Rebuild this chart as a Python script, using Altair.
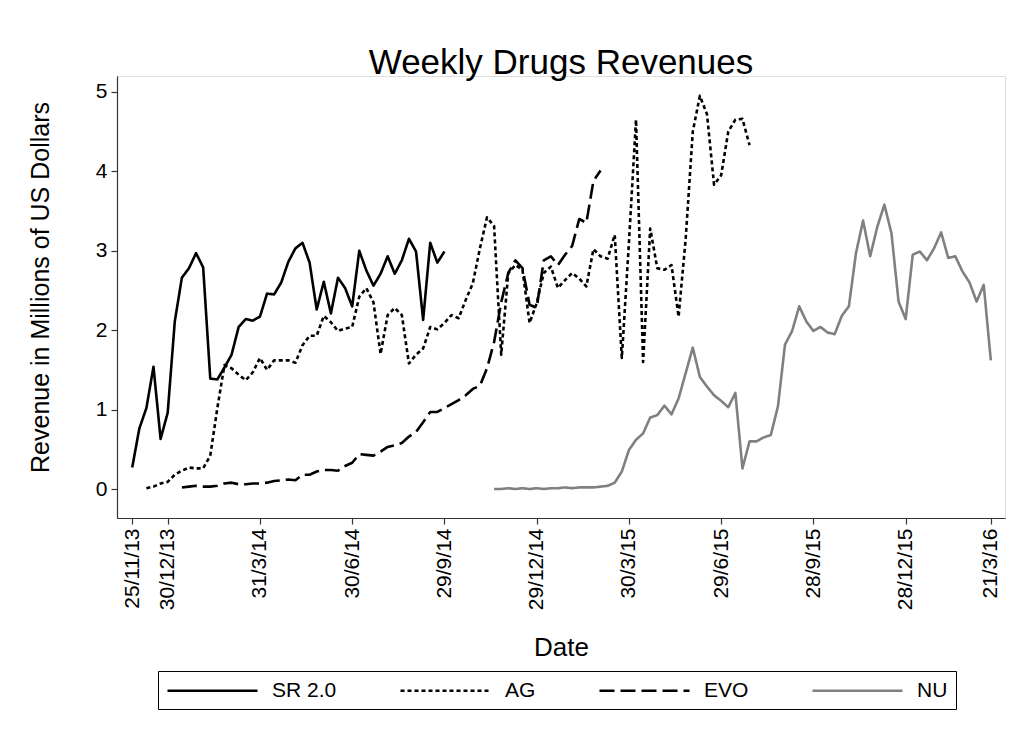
import altair as alt
import pandas as pd

# ---------------- data ----------------
series_names = ["SR 2.0", "AG", "EVO", "NU"]
first_monday = "2013-11-25"
# index (in weeks after first_monday) of each series' first observation
start_weeks = [0, 2, 7, 51]

SR = [0.27, 0.76, 1.02, 1.54, 0.63, 0.96, 2.11, 2.66, 2.78, 2.97,
      2.79, 1.39, 1.38, 1.53, 1.69, 2.04, 2.14, 2.12, 2.17, 2.46,
      2.45, 2.60, 2.86, 3.03, 3.10, 2.85, 2.26, 2.61, 2.21, 2.66,
      2.53, 2.30, 3.00, 2.75, 2.56, 2.71, 2.93, 2.71, 2.88, 3.15,
      2.99, 2.13, 3.10, 2.85, 2.99]

AG = [0.01, 0.03, 0.07, 0.09, 0.18, 0.23, 0.27, 0.26, 0.26, 0.42,
      1.02, 1.56, 1.52, 1.44, 1.37, 1.47, 1.65, 1.50, 1.62, 1.62,
      1.62, 1.59, 1.81, 1.93, 1.93, 2.18, 2.10, 1.99, 2.02, 2.04,
      2.42, 2.53, 2.35, 1.70, 2.19, 2.28, 2.19, 1.58, 1.69, 1.77,
      2.04, 2.01, 2.09, 2.19, 2.15, 2.38, 2.59, 3.03, 3.42, 3.31,
      1.69, 2.72, 2.82, 2.76, 2.09, 2.34, 2.72, 2.80, 2.53, 2.63,
      2.72, 2.65, 2.55, 3.02, 2.93, 2.90, 3.20, 1.65, 3.10, 4.65,
      1.60, 3.28, 2.78, 2.76, 2.82, 2.17, 3.15, 4.50, 4.95, 4.72,
      3.83, 3.95, 4.50, 4.65, 4.66, 4.33]

EVO = [0.02, 0.03, 0.04, 0.03, 0.03, 0.04, 0.07, 0.08, 0.06, 0.06,
       0.07, 0.07, 0.08, 0.10, 0.11, 0.12, 0.11, 0.18, 0.18, 0.22,
       0.24, 0.24, 0.23, 0.29, 0.33, 0.44, 0.43, 0.42, 0.47, 0.53,
       0.55, 0.58, 0.66, 0.72, 0.84, 0.97, 0.97, 1.02, 1.07, 1.12,
       1.18, 1.26, 1.30, 1.52, 1.85, 2.35, 2.72, 2.88, 2.78, 2.32,
       2.28, 2.88, 2.93, 2.82, 2.95, 3.06, 3.40, 3.35, 3.88, 4.01]

NU = [0.00, 0.00, 0.01, 0.00, 0.01, 0.00, 0.01, 0.00, 0.01, 0.01,
      0.02, 0.01, 0.02, 0.02, 0.02, 0.03, 0.04, 0.08, 0.22, 0.49,
      0.62, 0.70, 0.90, 0.93, 1.05, 0.94, 1.14, 1.46, 1.78, 1.41,
      1.29, 1.18, 1.11, 1.03, 1.21, 0.26, 0.60, 0.60, 0.65, 0.68,
      1.04, 1.82, 1.99, 2.30, 2.11, 1.99, 2.04, 1.97, 1.95, 2.18,
      2.30, 2.97, 3.38, 2.93, 3.30, 3.58, 3.22, 2.36, 2.14, 2.95,
      2.99, 2.88, 3.03, 3.23, 2.91, 2.93, 2.74, 2.60, 2.36, 2.57,
      1.62]

tick_dates = ["2013-11-25", "2013-12-30", "2014-03-31", "2014-06-30",
              "2014-09-29", "2014-12-29", "2015-03-30", "2015-06-29",
              "2015-09-28", "2015-12-28", "2016-03-21"]
y_ticks = [0, 1, 2, 3, 4, 5]
x_domain_dates = ["2013-11-10", "2016-04-04"]
y_domain = [-0.365, 5.2]

# ---------------- table ----------------
rows = []
base = pd.Timestamp(first_monday)
for name, start, vals in zip(series_names, start_weeks, [SR, AG, EVO, NU]):
    for i, v in enumerate(vals):
        d = base + pd.Timedelta(weeks=start + i)
        rows.append({"date": d.strftime("%Y-%m-%d"), "revenue": v, "series": name})
df = pd.DataFrame(rows)


def ms(s):
    return int(pd.Timestamp(s, tz="UTC").value // 10**6)


tick_ms = [ms(s) for s in tick_dates]
x_domain = [ms(s) for s in x_domain_dates]

FONT = "Liberation Sans"
AXC = "#333333"

legend = alt.Legend(orient="none", legendX=41, legendY=595,
                    direction="horizontal", columns=4, title=None,
                    symbolType="M-1,0H8", symbolSize=400,
                    symbolStrokeWidth=2.4,
                    labelFontSize=21, labelFont=FONT, labelColor="black",
                    labelOffset=83, columnPadding=58, padding=8,
                    strokeColor="black")

chart = alt.Chart(df).mark_line(strokeWidth=2.6, strokeJoin="round").encode(
    x=alt.X("date:T",
            scale=alt.Scale(type="utc", domain=x_domain, nice=False),
            axis=alt.Axis(values=tick_ms,
                          labelExpr="utcFormat(datum.value, '%-d/%-m/%y')",
                          labelAngle=-90, labelFontSize=21, labelFont=FONT,
                          labelColor="black", labelPadding=4,
                          tickSize=6, tickColor=AXC, domainColor=AXC,
                          domainWidth=1.2, tickWidth=1.2, grid=False,
                          labelOverlap=False, labelFlush=False,
                          title="Date", titleFontSize=26, titleFont=FONT,
                          titleFontWeight="normal", titleColor="black",
                          titlePadding=25)),
    y=alt.Y("revenue:Q",
            scale=alt.Scale(domain=y_domain, nice=False, zero=False),
            axis=alt.Axis(values=y_ticks, labelFontSize=21, labelFont=FONT,
                          labelColor="black", labelPadding=4,
                          tickSize=6, tickColor=AXC, domainColor=AXC,
                          domainWidth=1.2, tickWidth=1.2, grid=False,
                          labelFlush=False,
                          title="Revenue in Millions of US Dollars",
                          titleFontSize=25, titleFont=FONT,
                          titleFontWeight="normal", titleColor="black",
                          titlePadding=42, titleY=211)),
    color=alt.Color("series:N",
                    scale=alt.Scale(domain=series_names,
                                    range=["black", "black", "black", "#808080"]),
                    legend=legend),
    strokeDash=alt.StrokeDash("series:N",
                              scale=alt.Scale(domain=series_names,
                                              range=[[1, 0], [4, 3], [15, 6], [1, 0]]),
                              legend=legend),
    detail="series:N",
).properties(
    width=888,
    height=442,
    title=alt.TitleParams("Weekly Drugs Revenues", fontSize=35, font=FONT,
                          fontWeight="normal", color="black", anchor="middle",
                          offset=-5),
    autosize=alt.AutoSizeParams(type="none"),
    padding={"left": 109, "top": 68, "right": 8, "bottom": 215},
).configure_view(stroke=None).configure(background="white")

chart.save("out.html", embed_options={"renderer": "svg", "actions": False})
